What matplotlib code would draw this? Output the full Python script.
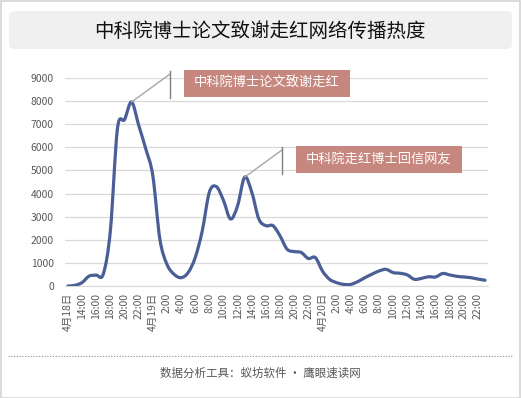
import numpy as np
import matplotlib
matplotlib.use("Agg")
import matplotlib.pyplot as plt
from matplotlib.path import Path
from matplotlib.patches import PathPatch, FancyBboxPatch, Rectangle
from matplotlib.lines import Line2D

plt.rcParams['font.family'] = ['Noto Sans CJK SC', 'DejaVu Sans']

# --- DATA (hourly, 4/18 12:00 -> 4/20 23:00) ---
hours = list(range(12, 24)) + list(range(0, 24)) + list(range(0, 24))
heat = [0, 30, 150, 430, 470, 520, 2400, 6810, 7200, 7960, 6960, 5940,
        4780, 2030, 940, 510, 360, 580, 1230, 2390, 4060, 4300, 3700, 2900,
        3480, 4710, 4060, 2900, 2610, 2610, 2170, 1590, 1490, 1450, 1190, 1230,
        650, 290, 145, 70, 70, 190, 360, 510, 650, 720, 580, 550,
        480, 290, 330, 400, 390, 540, 480, 420, 390, 360, 300, 250]
day_labels = {0: "4月18日", 12: "4月19日", 36: "4月20日"}
notes = ["中科院博士论文致谢走红", "中科院走红博士回信网友"]
note_idx = [9, 25]

W, H = 521, 398


def fx(x):
    return x / W


def fy(y):
    return 1 - y / H


fig = plt.figure(figsize=(W / 100, H / 100), dpi=100)
fig.patch.set_facecolor("white")

# outer frame + title box
fig.patches.append(Rectangle((0.5 / W, 0.5 / H), 1 - 1.5 / W, 1 - 1.5 / H, transform=fig.transFigure,
                             fill=False, edgecolor="#d4d4d4", lw=1.2))
fig.patches.append(FancyBboxPatch((fx(9), fy(49)), fx(503), 38 / H, transform=fig.transFigure,
                                  boxstyle="round,pad=0,rounding_size=0.012",
                                  facecolor="#f0f0f0", edgecolor="none"))
fig.text(fx(260), fy(31), "中科院博士论文致谢走红网络传播热度", ha="center", va="center",
         fontsize=14, color="#111111")

ax = fig.add_axes([fx(65), fy(286), fx(488 - 65), (286 - 78) / H])
n = len(heat)
xs = np.arange(n)

# Excel-style smoothed line: cubic bezier segments through the data points
p = np.column_stack([xs, heat]).astype(float)
verts = [p[0]]
codes = [Path.MOVETO]
for i in range(n - 1):
    p0 = p[i - 1] if i > 0 else p[i]
    p3 = p[i + 2] if i + 2 < n else p[i + 1]
    c1 = p[i] + (p[i + 1] - p0) / 6
    c2 = p[i + 1] - (p3 - p[i]) / 6
    verts += [c1, c2, p[i + 1]]
    codes += [Path.CURVE4] * 3
ax.add_patch(PathPatch(Path(verts, codes), facecolor="none", edgecolor="#4a5f96",
                       lw=2.3, capstyle="round", joinstyle="round", zorder=3))

ax.set_xlim(-0.42, n - 0.58)
ax.set_ylim(0, 9000)
ax.set_yticks(range(0, 9001, 1000))
ax.tick_params(axis="y", length=0, labelsize=7.5, labelcolor="#595959", pad=8)
ax.grid(axis="y", color="#d9d9d9", lw=0.9)
ax.set_axisbelow(True)

tick_pos = list(range(0, n, 2))
tick_lab = [day_labels.get(i, f"{hours[i]}:00") for i in tick_pos]
ax.set_xticks(tick_pos)
ax.set_xticklabels(tick_lab, rotation=90, fontsize=7.5, color="#595959")
ax.tick_params(axis="x", length=0, pad=5)

for s in ["top", "right", "left"]:
    ax.spines[s].set_visible(False)
ax.spines["bottom"].set_color("#d9d9d9")

# annotations
boxes = [(184, 70, 350, 97), (296, 146, 462, 173)]
for k, (x0, y0, x1, y1) in enumerate(boxes):
    lx = x0 - 14
    ax.annotate("", xy=(note_idx[k], heat[note_idx[k]]), xycoords="data",
                xytext=(fx(lx), fy(y0 + 4)), textcoords="figure fraction",
                arrowprops=dict(arrowstyle="-", color="#a6a6a6", lw=1, shrinkA=0, shrinkB=0))
    fig.add_artist(Line2D([fx(lx), fx(lx)], [fy(y0 + 1), fy(y1 + 1)], color="#7f7f7f", lw=1))
    fig.patches.append(Rectangle((fx(x0), fy(y1)), fx(x1 - x0), (y1 - y0) / H,
                                 transform=fig.transFigure, facecolor="#c6877e", edgecolor="none"))
    fig.text(fx((x0 + x1) / 2), fy((y0 + y1) / 2), notes[k], ha="center", va="center",
             fontsize=9.5, color="white")

# footer
fig.add_artist(Line2D([fx(8), fx(513)], [fy(356), fy(356)], color="#8c8c8c", lw=0.8, ls=(0, (1, 1.5))))
fig.text(fx(260), fy(373), "数据分析工具：蚁坊软件 · 鹰眼速读网", ha="center", va="center",
         fontsize=8.3, color="#595959")

fig.savefig("out.png", dpi=100)
